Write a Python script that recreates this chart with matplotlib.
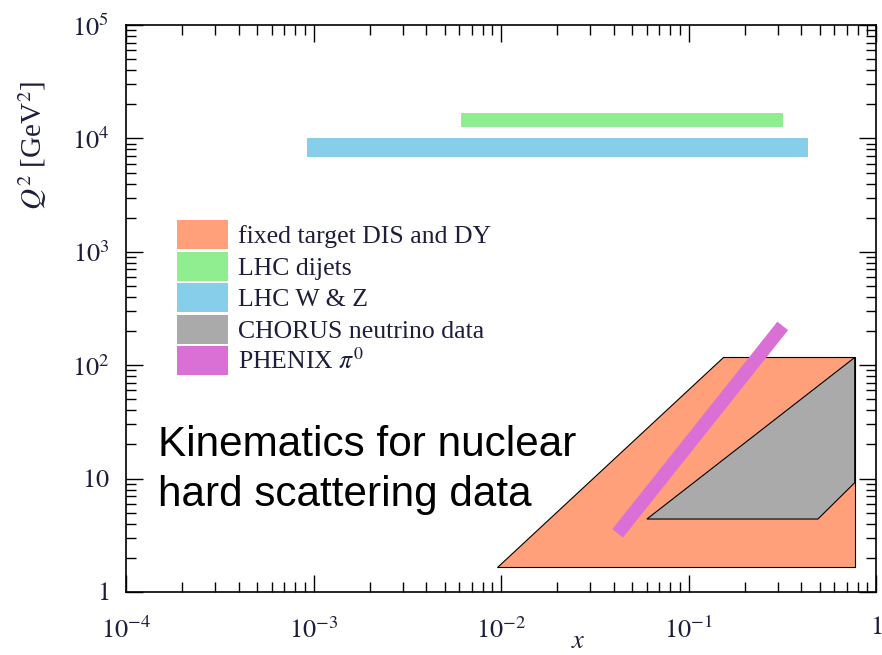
import matplotlib
matplotlib.use("Agg")
import matplotlib.pyplot as plt
from matplotlib.patches import Patch
from matplotlib.ticker import FixedLocator, FixedFormatter, LogLocator, NullFormatter

# ---------------- data ----------------
# fixed target DIS and DY region (x, Q^2 polygon)
dis_x = [0.0095, 0.77, 0.77, 0.152]
dis_q2 = [1.67, 1.67, 117, 117]
# CHORUS neutrino region
chorus_x = [0.060, 0.49, 0.77, 0.77]
chorus_q2 = [4.4, 4.4, 9.2, 117]
# LHC dijets band
dijet_x = [0.0061, 0.319]
dijet_q2 = [12500, 16900]
# LHC W & Z band
wz_x = [0.00092, 0.435]
wz_q2 = [6900, 10000]
# PHENIX pi0 line
phenix_x = [0.0419, 0.318]
phenix_q2 = [3.29, 222]

labels = ["fixed target DIS and DY", "LHC dijets", "LHC W & Z",
          "CHORUS neutrino data", r"PHENIX $\pi^0$"]
colors = ["#FFA07A", "#90EE90", "#87CEEB", "#AAAAAA", "#DA70D6"]

xticks = [1e-4, 1e-3, 1e-2, 1e-1, 1]
xticklabels = [r"$10^{-4}$", r"$10^{-3}$", r"$10^{-2}$", r"$10^{-1}$", r"$1$"]
yticks = [1, 10, 100, 1e3, 1e4, 1e5]
yticklabels = [r"$1$", r"$10$", r"$10^2$", r"$10^3$", r"$10^4$", r"$10^5$"]

# ---------------- style ----------------
plt.rcParams["mathtext.fontset"] = "stix"
plt.rcParams["font.family"] = ["Liberation Serif", "DejaVu Serif"]
tickcol = "#1e1e3c"

fig = plt.figure(figsize=(8.82, 6.55), dpi=100)
ax = fig.add_axes([126/882, 63/655, 750/882, 567/655])
ax.set_xscale("log")
ax.set_yscale("log")
ax.set_xlim(1e-4, 1)
ax.set_ylim(1, 1e5)

ax.fill(dis_x, dis_q2, facecolor=colors[0], edgecolor="black", linewidth=0.8, zorder=2)
ax.fill(chorus_x, chorus_q2, facecolor=colors[3], edgecolor="black", linewidth=0.8, zorder=3)
ax.fill_between(dijet_x, dijet_q2[0], dijet_q2[1], facecolor=colors[1], edgecolor="none", zorder=2)
ax.fill_between(wz_x, wz_q2[0], wz_q2[1], facecolor=colors[2], edgecolor="none", zorder=2)
ax.plot(phenix_x, phenix_q2, color=colors[4], linewidth=9.8, solid_capstyle="butt", zorder=4)

for s in ax.spines.values():
    s.set_linewidth(1.2)

ax.xaxis.set_major_locator(FixedLocator(xticks))
ax.xaxis.set_major_formatter(FixedFormatter(xticklabels))
ax.yaxis.set_major_locator(FixedLocator(yticks))
ax.yaxis.set_major_formatter(FixedFormatter(yticklabels))
ax.xaxis.set_minor_locator(LogLocator(base=10, subs=range(2, 10), numticks=20))
ax.yaxis.set_minor_locator(LogLocator(base=10, subs=range(2, 10), numticks=20))
ax.xaxis.set_minor_formatter(NullFormatter())
ax.yaxis.set_minor_formatter(NullFormatter())
ax.tick_params(which="both", direction="in", top=True, right=True, width=1.0, colors="black")
ax.tick_params(which="major", length=12)
ax.tick_params(which="minor", length=7)
ax.tick_params(axis="x", which="major", pad=18, labelsize=19, labelcolor=tickcol)
ax.tick_params(axis="y", which="major", pad=12, labelsize=19, labelcolor=tickcol)

handles = [Patch(facecolor=c, edgecolor="none") for c in colors]
leg = ax.legend(handles, labels, loc="upper left",
                bbox_to_anchor=((176.7-126)/750, (592-220)/567),
                frameon=False, fontsize=18.5, handlelength=1.98, handleheight=1.36,
                labelspacing=0.1, handletextpad=0.42, borderpad=0, borderaxespad=0)
for t in leg.get_texts():
    t.set_color(tickcol)

sans = ["Liberation Sans", "DejaVu Sans"]
fig.text(158/882, 1 - 456/655, "Kinematics for nuclear",
         family=sans, fontsize=30.4, color="black", ha="left", va="baseline")
fig.text(158/882, 1 - 506/655, "hard scattering data",
         family=sans, fontsize=30.4, color="black", ha="left", va="baseline")

fig.text(33/882, 1 - 145/655, r"$Q^2$ [GeV$^2$]", rotation=90, fontsize=21,
         color=tickcol, ha="center", va="center")
fig.text(578/882, 1 - 642/655, r"$x$", fontsize=19, color=tickcol, ha="center", va="center")

fig.savefig("out.png", dpi=100)
